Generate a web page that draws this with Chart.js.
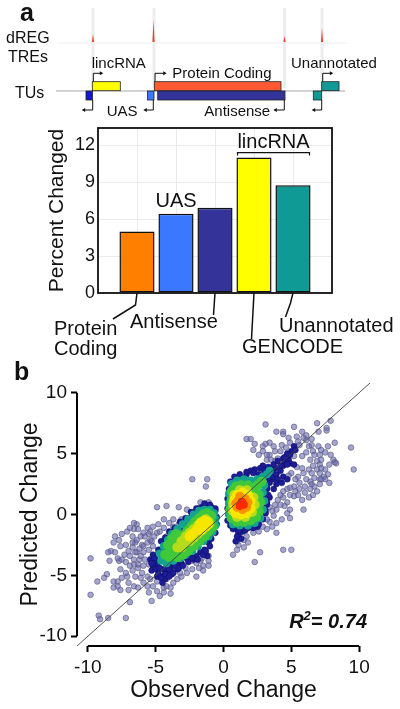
<!DOCTYPE html>
<html>
<head>
<meta charset="utf-8">
<script src="https://cdn.jsdelivr.net/npm/chart.js@4.4.1/dist/chart.umd.min.js"></script>
<style>
  body { margin: 0; background: #fff; }
  #wrap { position: relative; width: 400px; height: 709px; overflow: hidden; }
  #chartA { position: absolute; left: 0; top: 0; }
  #chartB { position: absolute; left: 0; top: 340px; }
</style>
</head>
<body>
<div id="wrap">
  <canvas id="chartA" width="400" height="370"></canvas>
  <canvas id="chartB" width="400" height="369"></canvas>
</div>
<script>
// ---- panel a data ----
const categories = ['Protein Coding', 'UAS', 'Antisense', 'GENCODE', 'Unannotated'];
const percentChanged = [5.0, 6.43, 6.92, 11.0, 8.76];
const barColors = ['#ff8000', '#3a78ff', '#333399', '#ffff00', '#109a96'];
const yTicksA = [0, 3, 6, 9, 12];

// ---- panel b data (observed, predicted) ----
const xTicksB = [-10, -5, 0, 5, 10];
const yTicksB = [-10, -5, 0, 5, 10];
const identityLine = [-10.8, 10.8];
const r2Value = '0.74';

const outlierPts = [
  [3.1,7.4],[3.9,6.8],[4.4,6.8],[4.4,6.6],[5.2,7.2],[5.8,6.8],[6.9,7.5],[7.9,7.7],[7.6,7.1],[7.6,6.9],[7.0,6.8],[6.1,6.5],[6.5,6.2],
  [1.7,6.2],[2.0,6.2],[2.3,5.8],[2.9,5.6],[3.1,5.8],[3.4,5.9],[9.4,5.5],[9.6,3.7],[7.0,5.6],[7.2,5.3],[6.6,5.2],[6.1,5.1],[6.4,4.5],
  [6.9,4.4],[7.2,4.5],[8.1,4.5],[8.2,4.3],[7.9,4.9],[7.5,3.7],[7.1,3.4],[7.7,3.3],[7.4,3.1],[7.5,2.9],[7.1,2.9],[7.8,2.6],[6.7,3.0],
  [6.4,2.7],[6.1,2.9],[6.5,2.5],[5.8,3.8],[5.4,3.9],[5.0,3.4],[4.8,3.2],[5.2,2.3],[4.9,1.6],[5.2,1.5],[5.5,1.6],[5.8,1.2],[5.9,0.4],
  [6.6,1.6],[6.3,1.4],[4.4,1.4],[4.7,1.0],[4.5,0.7],[3.9,0.4],[3.4,0.6],[3.7,-0.1],[3.9,-1.5],[4.9,-0.3],[5.0,-2.9],[4.4,-2.9],
  [2.3,-3.9],[2.7,-3.1],[0.7,-3.3],[1.1,-2.5],[1.5,-2.7],[1.0,-2.2],[1.5,-2.1],[1.2,-1.6],[1.7,-1.8],[2.2,-1.5],[2.1,-1.1],[3.4,-0.6],
  [3.2,-0.4],[5.8,4.8],[6.1,6.1],[5.6,5.7],[5.2,4.8],[6.9,3.7],[7.1,4.1],[4.9,5.9],[4.2,5.2],[3.8,5.2],[3.7,5.6],[3.4,4.9],[2.9,4.0],
  [3.2,4.5],
  [2.2,5.3],[2.6,4.9],[2.9,5.2],[3.2,4.9],[3.5,4.5],[3.8,4.4],[4.0,4.6],[4.3,5.7],[4.6,5.5],[4.8,6.3],[5.4,6.4],[5.5,6.0],[5.9,6.3],
  [6.3,5.6],[6.5,5.7],[6.7,4.9],[7.1,4.9],[7.5,5.1],[7.7,5.6],[8.2,5.9],[8.3,4.2],[7.8,4.1],[7.2,3.8],[6.6,4.0],[6.3,3.7],[5.9,3.4],
  [5.5,3.1],[5.3,2.9],[5.6,2.6],[6.0,2.3],[6.4,2.1],[6.7,2.3],[7.1,2.5],[6.9,1.9],[6.0,1.8],[5.6,2.1],[5.3,1.9],[4.9,2.2],[4.7,2.1],
  [4.4,1.9],[4.2,1.6],[4.0,1.2],[3.8,0.8],[3.6,0.3],[4.2,0.8],[4.9,0.4],[4.7,0.1],[4.3,-0.4],[3.9,-0.7],[3.6,-1.0],[3.2,-1.2],
  [2.9,-1.0],[2.6,-1.4],[1.8,-2.3],[1.0,-2.9],[6.5,3.4],[7.2,2.9],
  [-2.3,2.9],[-1.2,2.9],[-1.3,2.3],[-4.9,0.6],[-4.2,0.7],[-3.3,0.6],[-2.7,0.4],[-1.7,1.0],[-1.1,1.0],[-1.0,0.7],
  [-9.8,-3.6],[-9.8,-6.6],[-9.3,-5.5],[-9.2,-8.3],[-9.1,-8.6],[-8.5,-8.5],[-8.6,-4.9],[-8.8,-5.2],[-8.4,-3.8],[-8.3,-3.0],[-8.5,-3.1],
  [-8.1,-5.5],[-7.7,-3.8],[-7.7,-2.1],[-7.6,-4.5],[-7.8,-5.5],[-7.2,-8.5],[-6.9,-7.2],[-7.0,-6.2],[-7.0,-5.6],[-7.1,-5.1],[-7.3,-3.3],
  [-7.2,-2.5],[-7.1,-1.4],[-6.6,-1.2],[-6.4,-0.8],[-6.1,-1.8],[-6.7,-1.8],[-6.5,-2.3],[-6.7,-2.7],[-6.4,-3.1],[-6.0,-2.5],[-5.6,-1.1],
  [-5.5,-1.6],[-5.8,-1.8],[-5.4,-2.1],[-5.2,-2.6],[-5.5,-2.9],[-5.9,-3.1],[-6.2,-3.7],[-6.6,-3.7],[-6.9,-4.2],[-6.7,-4.6],[-6.3,-4.4],
  [-6.0,-4.8],[-6.5,-5.1],[-6.1,-5.2],[-5.9,-5.6],[-5.6,-5.1],[-5.2,-5.9],[-5.3,-7.1],[-4.7,-6.7],[-3.9,-6.5],[-4.4,-6.0],[-4.9,-5.5],
  [-4.2,-5.3],[-4.6,-4.9],[-3.7,-5.6],[-2.8,-4.4],[-2.0,-5.1],[-2.3,-3.8],[-1.7,-3.8],[-1.1,-3.8],[-1.5,-4.2],
  [-8.0,-3.1],[-7.8,-3.6],[-7.5,-3.7],[-7.2,-3.9],[-6.9,-3.4],[-6.5,-3.1],[-6.2,-2.8],[-5.9,-2.6],[-5.6,-2.3],[-5.3,-2.2],[-5.1,-1.8],
  [-4.9,-1.5],[-4.7,-1.4],[-4.4,-1.1],[-4.2,-1.8],[-3.9,-1.5],[-4.0,-2.3],[-3.7,-1.0],[-3.3,-0.8],[-3.1,-0.4],[-3.7,-0.4],[-4.0,-0.7],
  [-4.4,-0.4],[-4.8,-0.8],[-5.2,-1.0],[-5.4,-1.4],[-5.9,-1.5],[-6.3,-1.2],[-6.6,-0.7],[-6.9,-1.1],[-7.5,-1.6],[-8.0,-1.8],[-8.1,-2.3],
  [-7.6,-2.6],[-7.0,-3.0],[-6.7,-2.3],[-6.4,-2.1],[-6.1,-3.4],[-5.8,-3.7],[-5.5,-4.1],[-5.9,-4.2],[-6.3,-4.1],[-6.6,-4.1],[-7.2,-4.8],
  [-7.5,-5.2],[-7.8,-5.9],[-8.1,-6.0],[-7.6,-6.2],[-6.6,-5.9],[-6.3,-6.0],[-5.6,-5.9],[-5.4,-5.3],[-5.5,-6.4],[-4.9,-6.3],[-4.4,-6.4],
  [-4.2,-5.9],[-3.9,-6.0],[-3.4,-5.3],[-3.1,-5.1],[-2.7,-4.8],[-2.3,-4.5],[-1.8,-4.4],[-1.5,-4.6],[-1.1,-4.2],[-1.1,-3.4],[-1.6,-3.6],
  [-2.0,-4.0],[-3.2,-4.8]
];

const darkBluePts = [
  [-4.9,-4.1],[-4.7,-3.8],[-5.0,-3.7],[-4.4,-4.5],[-4.8,-4.6],[-4.2,-4.8],[-4.5,-5.1],[-3.9,-4.5],[-3.7,-4.1],[-4.1,-4.1],[-4.3,-3.3],
  [-4.5,-3.1],[-4.2,-2.7],[-3.8,-2.6],[-4.8,-2.9],[-3.7,-2.2],[-3.3,-1.8],[-3.1,-1.4],[-2.8,-1.0],[-2.6,-0.6],[-2.3,-0.1],[-2.0,0.1],
  [-1.6,0.6],[-1.2,0.7],[-0.9,0.6],[-0.6,0.3],[-0.7,-0.1],[-0.7,-0.7],[-0.9,-1.2],[-1.0,-1.8],[-1.1,-2.3],[-1.4,-2.9],[-1.7,-3.1],
  [-2.0,-3.4],[-2.3,-3.4],[-2.7,-3.6],[-3.1,-4.0],[-3.4,-4.1],[-3.2,-3.7],[-2.8,-3.1],[-1.2,-3.4],[-2.2,-3.7],[-3.4,-4.5],[-3.8,-4.9],
  [-5.2,-4.2],[-5.4,-3.7],[-5.2,-3.3],[-4.9,-5.1],[-4.3,-5.3],[-4.5,-5.6],[-3.2,-2.6],[-3.0,-2.2],[-2.7,-1.8],[-5.3,-4.6],
  [-5.0,-4.5],[-4.8,-4.9],[-4.6,-5.2],[-4.3,-4.9],[-4.0,-5.1],[-3.7,-4.8],[-3.3,-4.4],[-3.0,-4.2],[-2.6,-3.9],[-2.3,-3.6],[-1.9,-3.7],
  [-1.5,-3.3],[-1.3,-3.0],[-1.0,-2.6],[-0.9,-2.0],[-0.6,-1.5],[-0.5,-0.8],[-0.5,-0.2],[-0.6,0.5],[-1.0,0.8],[-1.4,0.9],[-1.8,0.5],
  [-2.1,0.2],[-2.5,-0.3],[-2.9,-0.8],[-3.2,-1.2],[-3.6,-1.6],[-3.9,-2.0],[-4.2,-2.4],[-4.5,-2.8],[-4.8,-3.2],[-5.1,-3.6],[-5.3,-4.0],
  [-4.0,-4.5],[-3.6,-4.2],[-4.7,-4.4],[-4.6,-2.2],[-4.3,-1.9],[-4.0,-1.4],[-3.6,-1.1],[-3.2,-0.6],[-2.8,-0.3],[-2.4,0.2],[-2.0,0.5],
  [0.7,-1.0],[1.0,-1.2],[1.2,-1.0],[1.6,-1.0],[2.0,-0.7],[2.2,-0.4],[2.6,0.0],[2.8,0.4],[2.9,1.0],[3.1,1.5],[3.2,2.1],[3.4,2.6],
  [3.6,2.9],[3.7,3.1],[3.9,3.3],[4.0,2.9],[4.2,3.6],[4.4,4.0],[4.5,4.4],[4.8,4.5],[4.9,4.2],[4.7,4.8],[5.0,5.2],[5.2,5.6],[4.7,4.1],
  [5.3,5.3],[4.4,4.6],[3.8,3.8],[3.6,3.6],[3.3,3.8],[2.9,4.0],[2.7,3.8],[2.3,3.7],[2.0,3.6],[1.7,3.3],[1.4,3.0],[1.1,2.7],[0.9,2.3],
  [0.7,1.9],[0.6,1.5],[0.6,1.0],[0.6,0.4],[0.7,-0.1],[0.9,-0.6],[1.1,-1.6],[1.4,-1.4],[1.8,-1.1],[2.5,-1.0],[2.7,-0.4],[3.1,0.1],
  [3.2,0.8],[3.4,1.4],[3.7,2.1],[3.9,2.5],[4.4,3.1],[4.3,2.6],[4.7,2.9],[5.2,4.1],[4.9,4.9],
  [0.3,-0.5],[0.3,0.5],[0.3,1.3],[0.4,2.1],[0.5,2.7],[0.8,3.1],[1.2,3.3],[1.7,3.5],[2.2,3.4],[2.6,3.3],[3.0,3.6],[3.3,3.9],[3.7,4.1],
  [4.0,4.4],[4.2,4.0],[4.5,4.7],[4.7,5.0],[3.3,3.0],[3.2,2.2],[3.3,1.6],[3.2,1.0],[3.1,0.3],[2.9,-0.4],[2.6,-0.8],[2.2,-1.1],[1.6,-1.3],
  [1.1,-1.4],[0.7,-1.2],[0.5,-0.9],[1.3,-2.0],[1.0,-1.8],[0.9,-2.2]
];

const tealPts = [
  [-4.6,-3.8],[-4.7,-3.2],[-4.4,-2.6],[-4.1,-2.1],[-3.8,-1.6],[-3.4,-1.2],[-3.0,-0.8],[-2.6,-0.4],[-2.2,0.0],[-1.8,0.3],[-1.4,0.4],
  [-1.0,0.4],[-0.7,0.1],[-0.6,-0.4],[-0.6,-0.9],[-0.8,-1.4],[-1.1,-1.8],[-1.5,-2.2],[-1.9,-2.6],[-2.3,-3.0],[-2.8,-3.3],[-3.2,-3.6],
  [-3.7,-3.8],[-4.2,-4.0],
  [0.4,0.0],[0.4,0.9],[0.4,1.7],[0.6,2.5],[1.0,2.8],[1.5,2.9],[2.0,2.8],[2.5,2.9],[2.9,3.1],[3.2,3.3],[3.4,3.6],[3.0,2.4],[2.9,1.8],
  [3.0,1.1],[2.9,0.4],[2.7,-0.3],[2.3,-0.7],[1.8,-0.9],[1.2,-0.9],[0.7,-0.8]
];

const greenPts = [
  [-4.3,-3.3],[-4.0,-3.5],[-3.9,-2.9],[-3.6,-3.2],[-3.6,-2.5],[-3.3,-2.9],[-3.3,-2.1],[-3.0,-2.6],[-3.0,-1.7],[-2.7,-2.4],[-2.7,-1.4],
  [-2.4,-2.1],[-2.4,-1.0],[-2.1,-1.8],[-2.1,-0.6],[-1.8,-1.5],[-1.8,-0.3],[-1.5,-1.3],[-1.5,0.0],[-1.2,-1.0],[-1.2,0.1],[-0.9,-0.7],
  [-0.9,-0.1],[-3.8,-2.0],[-3.5,-1.6],[-4.1,-2.5],[-2.6,-3.0],[-2.2,-2.6],[-1.8,-2.2],[-1.4,-1.8],[-1.1,-1.4],[-0.8,-1.0],[-3.0,-3.3],
  [-3.4,-3.5],
  [0.6,1.2],[0.6,1.9],[0.9,2.3],[1.3,2.4],[1.8,2.4],[2.3,2.0],[2.6,1.6],[2.7,1.0],[2.6,0.3],[2.4,-0.2],[2.0,-0.5],[1.5,-0.6],
  [1.0,-0.6],[0.6,-0.3],[0.5,0.4],[2.5,2.4],[2.8,2.7]
];

const limePts = [
  [-3.4,-2.7],[-3.1,-2.2],[-2.8,-1.8],[-2.5,-1.5],[-2.5,-2.2],[-2.2,-1.2],[-2.2,-1.9],[-1.9,-0.9],[-1.9,-1.6],[-1.6,-0.6],[-1.3,-0.4],
  [-1.1,-0.6],[-3.1,-2.7],[-2.8,-2.3],
  [0.7,0.9],[0.8,1.6],[1.2,2.0],[1.7,2.0],[2.2,1.4],[2.3,0.8],[2.1,0.2],[1.6,-0.2],[1.0,-0.2],[0.7,0.3]
];

const yellowPts = [
  [-2.3,-1.6],[-2.0,-1.3],[-1.8,-1.0],[-1.6,-1.3],[-1.5,-0.8],[-1.3,-1.0],[-1.2,-0.6],[-1.4,-0.5],[-2.5,-1.8],[-1.7,-0.7],[-1.1,-0.8],
  [0.8,0.5],[0.8,1.2],[1.0,1.6],[1.4,1.8],[1.8,1.6],[2.0,1.1],[2.0,0.5],[1.7,0.1],[1.3,0.0],[0.9,0.1],[1.1,0.85],[1.6,0.85]
];

const orangePts = [[1.0,0.6],[1.1,1.2],[1.6,1.3],[1.7,0.6],[1.4,0.4],[1.2,1.5],[0.9,0.9],[1.8,1.0]];
const redPts = [[1.3,0.8],[1.4,0.95],[1.2,0.7],[1.5,0.8],[1.35,1.05]];

const FONT = 'Arial, "Liberation Sans", Helvetica, sans-serif';
Chart.defaults.font.family = FONT;
Chart.defaults.color = '#111';

function seg(ctx, pts) {
  ctx.beginPath();
  ctx.moveTo(pts[0][0], pts[0][1]);
  for (let i = 1; i < pts.length; i++) ctx.lineTo(pts[i][0], pts[i][1]);
  ctx.stroke();
}
function head(ctx, x, y, dir) {
  ctx.beginPath();
  ctx.moveTo(x, y);
  ctx.lineTo(x - 3.5 * dir, y - 2);
  ctx.lineTo(x - 3.5 * dir, y + 2);
  ctx.closePath();
  ctx.fill();
}

// schematic of transcription units above the bars
function drawSchematic(ctx) {
  ctx.save();
  ctx.strokeStyle = '#ededed'; ctx.lineWidth = 3;
  [93, 154, 284.5, 322].forEach(x => seg(ctx, [[x, 8], [x, 88]]));
  ctx.strokeStyle = '#eeeeee'; ctx.lineWidth = 1;
  seg(ctx, [[57, 43], [347, 43]]);
  ctx.fillStyle = '#e8432a';
  [[93, 34], [153.5, 20], [284.5, 36], [322, 28]].forEach(([x, t]) => {
    ctx.beginPath(); ctx.moveTo(x - 1.1, 42); ctx.lineTo(x, t); ctx.lineTo(x + 1.1, 42); ctx.closePath(); ctx.fill();
  });

  ctx.fillStyle = '#111'; ctx.textBaseline = 'alphabetic'; ctx.textAlign = 'left';
  ctx.font = 'bold 25px ' + FONT;
  ctx.fillText('a', 20, 21);
  ctx.font = '16px ' + FONT;
  ctx.fillText('dREG', 6, 43);
  ctx.fillText('TREs', 8, 62);
  ctx.fillText('TUs', 15, 98);

  ctx.strokeStyle = '#aaaaaa'; ctx.lineWidth = 1.2;
  seg(ctx, [[56, 91], [345, 91]]);

  const boxes = [
    ['#1414e0', 86, 91, 6.5, 9], ['#ffff00', 92.3, 81.7, 28, 9], ['#3a78ff', 147.5, 91, 6.5, 9],
    ['#ff5a33', 154.3, 81.7, 126.7, 9], ['#333399', 157.7, 91, 127.3, 9],
    ['#109a96', 313.3, 91, 8.4, 9], ['#109a96', 321.7, 81.7, 17.3, 9]
  ];
  ctx.lineWidth = 0.8; ctx.strokeStyle = '#222';
  boxes.forEach(([c, x, y, w, h]) => { ctx.fillStyle = c; ctx.fillRect(x, y, w, h); ctx.strokeRect(x, y, w, h); });

  ctx.strokeStyle = '#111'; ctx.fillStyle = '#111'; ctx.lineWidth = 1;
  [[93.3, 103.3], [155, 166.7], [322.7, 333.3]].forEach(([x, e]) => {
    seg(ctx, [[x, 81.7], [x, 73.3], [e - 3, 73.3]]); head(ctx, e, 73.3, 1);
  });
  [[92.7, 81.7], [153.3, 143.3], [284.3, 273.3], [321.7, 311.7]].forEach(([x, e]) => {
    seg(ctx, [[x, 100], [x, 110], [e + 3, 110]]); head(ctx, e, 110, -1);
  });

  ctx.font = '15px ' + FONT;
  ctx.fillText('lincRNA', 91.7, 68);
  ctx.fillText('Protein Coding', 172.3, 78);
  ctx.fillText('Unannotated', 291, 68);
  ctx.fillText('UAS', 106.7, 116);
  ctx.fillText('Antisense', 204.3, 116);
  ctx.restore();
}

const panelAPlugin = {
  id: 'panelA',
  afterDraw(chart) {
    const {ctx, chartArea: a, scales: {x, y}} = chart;
    ctx.save();
    ctx.strokeStyle = '#111'; ctx.lineWidth = 1.8;
    ctx.strokeRect(a.left, a.top, a.right - a.left, a.bottom - a.top);

    const cx = i => x.getPixelForValue(i + 1);
    const y0 = y.getPixelForValue(0);
    ctx.lineWidth = 1.5;
    seg(ctx, [[cx(0), y0], [cx(0) - 1.5, y0 + 12], [cx(0) - 24, y0 + 26]]);
    seg(ctx, [[cx(2), y0], [cx(2) - 1.5, y0 + 22]]);
    seg(ctx, [[cx(3), y0], [cx(3) - 2.5, y0 + 46]]);
    seg(ctx, [[cx(4), y0], [cx(4) - 2.5, y0 + 10], [cx(4) - 7.5, y0 + 24]]);

    ctx.fillStyle = '#111'; ctx.font = '20px ' + FONT; ctx.textBaseline = 'alphabetic';
    ctx.textAlign = 'left';
    ctx.fillText('Protein', 54, 335);
    ctx.fillText('Coding', 54, 355);
    ctx.fillText('Antisense', 130, 328);
    ctx.fillText('GENCODE', 242, 353);
    ctx.fillText('Unannotated', 279, 332);

    ctx.textAlign = 'center';
    ctx.fillText('UAS', cx(1), 207);
    const lx = (cx(3) + cx(4)) / 2;
    ctx.fillText('lincRNA', lx, 148);
    ctx.lineWidth = 1.2;
    seg(ctx, [[lx - 36, 155.5], [lx - 36, 152.7], [lx + 36, 152.7], [lx + 36, 155.5]]);
    ctx.restore();
    drawSchematic(ctx);
  }
};

const slotLabels = ['', ...categories, ''];
new Chart(document.getElementById('chartA'), {
  type: 'bar',
  data: {
    labels: slotLabels,
    datasets: [{
      data: [null, ...percentChanged, null],
      backgroundColor: ['transparent', ...barColors, 'transparent'],
      borderColor: '#111',
      borderWidth: 1.5,
      borderSkipped: false,
      barPercentage: 0.9,
      categoryPercentage: 1
    }]
  },
  options: {
    responsive: false,
    animation: false,
    events: [],
    layout: {padding: {left: 45, right: 68, top: 128, bottom: 77}},
    plugins: {legend: {display: false}, tooltip: {enabled: false}},
    scales: {
      x: {
        offset: false,
        grid: {offset: false, color: '#ebebeb', drawTicks: false},
        border: {display: false},
        ticks: {display: false},
        afterFit: s => { s.height = 0; }
      },
      y: {
        min: 0, max: 13.4,
        afterBuildTicks: s => { s.ticks = yTicksA.map(v => ({value: v})); },
        grid: {color: '#ebebeb', drawTicks: false},
        border: {display: false},
        ticks: {font: {size: 18}, color: '#111', padding: 3},
        title: {display: true, text: 'Percent Changed', font: {size: 21}, color: '#111', padding: 0},
        afterFit: s => { s.width = 53; }
      }
    }
  },
  plugins: [panelAPlugin]
});

// ---- panel b ----
const toXY = pts => pts.map(p => ({x: p[0], y: p[1]}));

const panelBPlugin = {
  id: 'panelB',
  afterDraw(chart) {
    const {ctx, chartArea: a, scales: {x, y}} = chart;
    ctx.save();
    ctx.strokeStyle = '#000'; ctx.lineWidth = 2;
    seg(ctx, [[a.left, y.getPixelForValue(yTicksB[yTicksB.length - 1])], [a.left, y.getPixelForValue(yTicksB[0])]]);
    seg(ctx, [[x.getPixelForValue(xTicksB[0]), a.bottom], [x.getPixelForValue(xTicksB[xTicksB.length - 1]), a.bottom]]);

    ctx.fillStyle = '#111'; ctx.textBaseline = 'alphabetic'; ctx.textAlign = 'left';
    ctx.font = 'bold 25px ' + FONT;
    ctx.fillText('b', 14, 40);

    const big = 'italic bold 20px ' + FONT, small = 'italic bold 13px ' + FONT;
    const rest = '= ' + r2Value;
    ctx.font = big; const wR = ctx.measureText('R').width, wRest = ctx.measureText(rest).width;
    ctx.font = small; const w2 = ctx.measureText('2').width;
    let sx = 367 - (wR + w2 + wRest);
    const base = 288;
    ctx.font = big; ctx.fillText('R', sx, base);
    ctx.font = small; ctx.fillText('2', sx + wR, base - 8);
    ctx.font = big; ctx.fillText(rest, sx + wR + w2, base);
    ctx.restore();
  }
};

const layer = (pts, fill, r, border, bw, order) => ({
  data: toXY(pts), backgroundColor: fill, borderColor: border || fill, borderWidth: bw || 0,
  pointRadius: r, order
});

new Chart(document.getElementById('chartB'), {
  type: 'scatter',
  data: {
    datasets: [
      {
        data: identityLine.map(v => ({x: v, y: v})), showLine: true, borderColor: '#444',
        borderWidth: 0.9, pointRadius: 0, order: 0
      },
      layer(redPts, '#ff2a00', 4, null, 0, 1),
      layer(orangePts, '#ff9100', 4.5, null, 0, 2),
      layer(yellowPts, '#f7e600', 5, null, 0, 3),
      layer(limePts, '#b5dc1c', 5, null, 0, 4),
      layer(greenPts, '#3fc83a', 5, null, 0, 5),
      layer(tealPts, '#14a38e', 4, null, 0, 6),
      layer(darkBluePts, '#1c1c98', 3, 'rgba(10,10,90,0.9)', 0.5, 7),
      layer(outlierPts, 'rgba(105,105,178,0.6)', 2.8, 'rgba(90,90,125,0.8)', 0.8, 8)
    ]
  },
  options: {
    responsive: false,
    animation: false,
    events: [],
    layout: {padding: {left: 0, right: 30, top: 43, bottom: 0}},
    plugins: {legend: {display: false}, tooltip: {enabled: false}},
    scales: {
      x: {
        min: identityLine[0], max: identityLine[1],
        afterBuildTicks: s => { s.ticks = xTicksB.map(v => ({value: v})); },
        grid: {drawOnChartArea: false, drawTicks: true, tickLength: 6, tickWidth: 2, tickColor: '#000'},
        border: {display: false},
        ticks: {font: {size: 19}, color: '#111', padding: 4, maxRotation: 0},
        title: {display: true, text: 'Observed Change', font: {size: 23}, color: '#111', padding: {top: 0, bottom: 5}},
        afterFit: s => { s.height = 63; }
      },
      y: {
        min: identityLine[0], max: identityLine[1],
        afterBuildTicks: s => { s.ticks = yTicksB.map(v => ({value: v})); },
        grid: {drawOnChartArea: false, drawTicks: true, tickLength: 6, tickWidth: 2, tickColor: '#000'},
        border: {display: false},
        ticks: {font: {size: 19}, color: '#111', padding: 4},
        title: {display: true, text: 'Predicted Change', font: {size: 23}, color: '#111', padding: {top: 17, bottom: 0}},
        afterFit: s => { s.width = 77; }
      }
    }
  },
  plugins: [panelBPlugin]
});
</script>
</body>
</html>
